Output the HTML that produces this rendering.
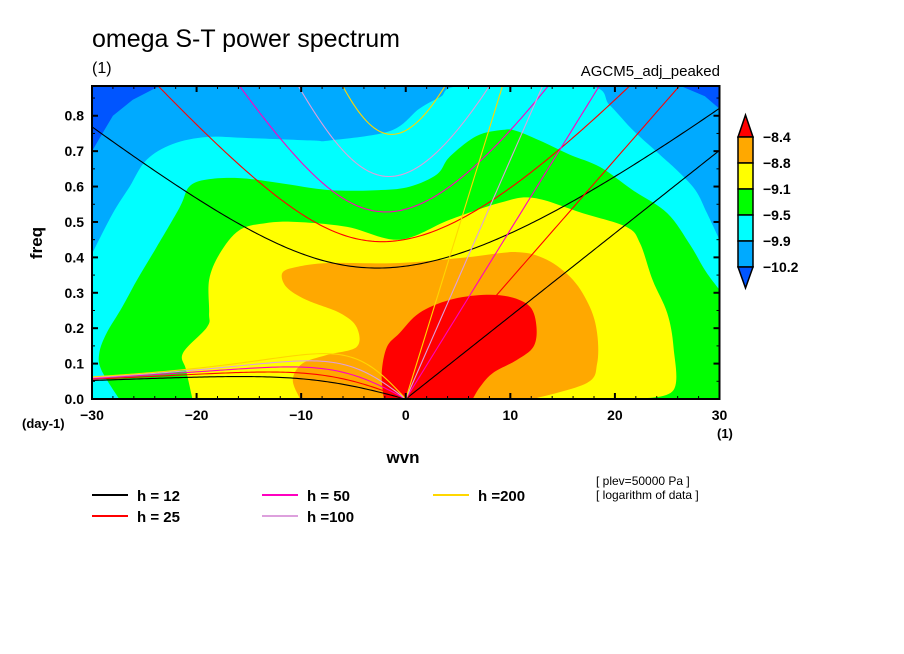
<!DOCTYPE html>
<html><head><meta charset="utf-8">
<style>
html,body{margin:0;padding:0;background:#fff;}
svg{display:block;font-family:"Liberation Sans",sans-serif;}
</style></head>
<body>
<svg id="chart" width="904" height="654" viewBox="0 0 904 654">
<defs><clipPath id="plotclip"><rect x="92" y="86" width="628" height="313"/></clipPath></defs>
<rect width="904" height="654" fill="#fff"/>
<text x="92" y="47" font-size="25">omega S-T power spectrum</text>
<text x="92" y="73" font-size="16">(1)</text>
<text x="720" y="76" font-size="15" text-anchor="end">AGCM5_adj_peaked</text>
<g id="fills" clip-path="url(#plotclip)"></g>
<g id="curves" clip-path="url(#plotclip)"></g>
<g id="axes"></g>
<g id="cbar"></g>
<text x="42" y="243" font-size="17" font-weight="bold" text-anchor="middle" transform="rotate(-90 42 243)">freq</text>
<text x="403" y="463" font-size="17" font-weight="bold" text-anchor="middle">wvn</text>
<text x="22" y="428" font-size="13" font-weight="bold">(day-1)</text>
<text x="717" y="438" font-size="13" font-weight="bold">(1)</text>
<g id="legend"></g>
<text x="596" y="485" font-size="12">[ plev=50000 Pa ]</text>
<text x="596" y="499" font-size="12">[ logarithm of data ]</text>
</svg>
<script>
// ---- data ----
const hValues = [12, 25, 50, 100, 200];
const hColors = ["#000000", "#ff0000", "#ff00c0", "#dda0dd", "#ffd700"];
const levelLabels = ["-8.4", "-8.8", "-9.1", "-9.5", "-9.9", "-10.2"];
const levelColors = ["#ff0000", "#ffa800", "#ffff00", "#00ff00", "#00ffff", "#00aaff", "#0055ff"];
const xTicks = [-30, -20, -10, 0, 10, 20, 30];
const yTicks = [0, 0.1, 0.2, 0.3, 0.4, 0.5, 0.6, 0.7, 0.8];
// contour boundaries in (wvn, freq)
const darkBlueTL = [[-30,0.885],[-20.7,0.885],[-23.8,0.88],[-26.1,0.845],[-28.0,0.80],[-30,0.70]];
const darkBlueTR = [[26.2,0.885],[30,0.885],[30,0.82],[28.6,0.855]];
const cyanEdge = [[-30,0.41],[-28.0,0.525],[-26.4,0.60],[-24.8,0.675],[-22.3,0.72],[-19.0,0.74],[-15.2,0.737],[-8.9,0.73],[-7.3,0.73],[-1.5,0.757],[1.3,0.82],[3.3,0.853],[5.5,0.885],[17.3,0.885],[19.5,0.83],[21.7,0.76],[24.3,0.69],[25.9,0.647],[27.7,0.59],[28.8,0.525],[30,0.45]];
const greenEdge = [[-27.4,0],[-29.1,0.082],[-29.3,0.13],[-28.6,0.186],[-27.1,0.26],[-25.7,0.336],[-23.8,0.43],[-21.6,0.542],[-20.7,0.60],[-19.0,0.62],[-15.9,0.624],[-12.1,0.61],[-7.3,0.59],[-2.5,0.59],[0.4,0.60],[3.0,0.635],[4.2,0.684],[6.8,0.743],[9.3,0.76],[10.6,0.757],[13.1,0.726],[15.7,0.69],[18.6,0.655],[21.7,0.59],[25.0,0.525],[27.2,0.435],[28.6,0.364],[30,0.308]];
const yellowEdge = [[-20.4,0],[-21.0,0.082],[-21.3,0.13],[-19.0,0.203],[-18.8,0.243],[-18.8,0.336],[-17.8,0.41],[-15.9,0.477],[-13.3,0.497],[-10.4,0.50],[-5.6,0.486],[-0.6,0.45],[4.2,0.506],[9.0,0.554],[12.2,0.568],[16.9,0.525],[21.1,0.486],[22.4,0.44],[23.6,0.336],[25.0,0.243],[25.6,0.147],[25.6,0.025],[22.2,0]];
const orangeEdge = [[-10.1,0],[-10.8,0.054],[-9.9,0.10],[-7.6,0.124],[-4.7,0.147],[-4.7,0.203],[-6.3,0.243],[-9.5,0.28],[-11.4,0.316],[-11.8,0.356],[-10.4,0.373],[-7.3,0.384],[-0.6,0.384],[5.8,0.40],[10.6,0.415],[13.5,0.393],[16.0,0.336],[17.6,0.26],[18.3,0.186],[18.3,0.10],[17.3,0.045],[12.2,0]];
const redEdge = [[-2.1,0],[-2.3,0.073],[-1.8,0.147],[-0.6,0.186],[1.3,0.243],[4.2,0.28],[7.4,0.294],[10.0,0.288],[11.9,0.26],[12.5,0.203],[12.2,0.147],[10.6,0.11],[8.3,0.073],[7.1,0.034],[6.4,0]];

// ---- axes ----
const X0=92, X1=719.5, Y0=399, YT=86;
const xMin=-30, xMax=30, yMin=0, yMax=0.884;
const sx = k => X0 + (k - xMin) / (xMax - xMin) * (X1 - X0);
const sy = f => Y0 - (f - yMin) / (yMax - yMin) * (Y0 - YT);
const NS="http://www.w3.org/2000/svg";
function mk(tag, attrs, parent){const e=document.createElementNS(NS,tag);for(const k in attrs)e.setAttribute(k,attrs[k]);parent.appendChild(e);return e;}

function smoothPath(pts){
  const P=pts.map(p=>[sx(p[0]),sy(p[1])]);
  let d="M"+P[0][0].toFixed(1)+","+P[0][1].toFixed(1);
  for(let i=0;i<P.length-1;i++){
    const p0=P[Math.max(i-1,0)],p1=P[i],p2=P[i+1],p3=P[Math.min(i+2,P.length-1)];
    const c1=[p1[0]+(p2[0]-p0[0])/6,p1[1]+(p2[1]-p0[1])/6];
    const c2=[p2[0]-(p3[0]-p1[0])/6,p2[1]-(p3[1]-p1[1])/6];
    d+=" C"+c1.map(v=>v.toFixed(1)).join(",")+" "+c2.map(v=>v.toFixed(1)).join(",")+" "+p2[0].toFixed(1)+","+p2[1].toFixed(1);
  }
  return d;
}
const fills=document.getElementById("fills");
const bg=mk("rect",{x:X0,y:YT,width:X1-X0+1,height:Y0-YT,fill:levelColors[5]},fills);


function region(pts, closePts, color, name){
  let d=smoothPath(pts);
  closePts.forEach(p=>{d+=" L"+sx(p[0]).toFixed(1)+","+sy(p[1]).toFixed(1);});
  d+=" Z";
  const e=mk("path",{d:d,fill:color},fills);
  
  
}
function poly(pts,color,name){
  const e=mk("polygon",{points:pts.map(p=>sx(p[0]).toFixed(1)+","+sy(p[1]).toFixed(1)).join(" "),fill:color},fills);
  
  
}
poly(darkBlueTL,levelColors[6],"fill-darkblue-topleft");
poly(darkBlueTR,levelColors[6],"fill-darkblue-topright");
region(cyanEdge,[[30,0],[-30,0]],levelColors[4],"fill-cyan");
region(greenEdge,[[30,0]],levelColors[3],"fill-green");
region(yellowEdge,[],levelColors[2],"fill-yellow");
region(orangeEdge,[],levelColors[1],"fill-orange");
region(redEdge,[],levelColors[0],"fill-red");

// ---- dispersion curves ----
const g=9.8, a=6.371e6, beta=2*7.292e-5/a, toCpd=86400/(2*Math.PI);
const curves=document.getElementById("curves");
function roots(s,c){
  const k=s/a, p=-(c*c*k*k+3*beta*c), q=-beta*k*c*c;
  const m=2*Math.sqrt(-p/3);
  let arg=(3*q/(2*p))*Math.sqrt(-3/p); arg=Math.max(-1,Math.min(1,arg));
  const th=Math.acos(arg)/3;
  return [0,1,2].map(j=>m*Math.cos(th-2*Math.PI*j/3)).sort((u,v)=>v-u);
}
function line(pts,color,name){
  const e=mk("polyline",{points:pts.map(p=>sx(p[0]).toFixed(2)+","+sy(p[1]).toFixed(2)).join(" "),fill:"none",stroke:color,"stroke-width":1.1},curves);
  
  
}
hValues.forEach((h,i)=>{
  const c=Math.sqrt(g*h);
  const kel=[],ig=[],er=[];
  for(let s=-30;s<=30.001;s+=0.25){
    const r=roots(s,c);
    ig.push([s,r[0]*toCpd]);
    if(s<=0) er.push([s,Math.max(0,r[1])*toCpd]);
    if(s>=0) kel.push([s,c*(s/a)*toCpd]);
  }
  line(ig,hColors[i],"ig-wave-h"+h);
  line(er,hColors[i],"er-wave-h"+h);
  line(kel,hColors[i],"kelvin-wave-h"+h);
});

// ---- axes frame & ticks ----
const ax=document.getElementById("axes");
const fr=mk("rect",{x:X0,y:YT,width:X1-X0,height:Y0-YT,fill:"none",stroke:"#000","stroke-width":2},ax);


for(let s=-30;s<=30;s+=2){
  const major=s%10===0, len=major?6:3, x=sx(s);
  mk("line",{x1:x,y1:Y0,x2:x,y2:Y0-len,stroke:"#000","stroke-width":major?2:1},ax);
  mk("line",{x1:x,y1:YT,x2:x,y2:YT+len,stroke:"#000","stroke-width":major?2:1},ax);
}
for(let f=0;f<=0.88;f+=0.05){
  const major=Math.round(f*100)%10===0, len=major?6:3, y=sy(f);
  mk("line",{x1:X0,y1:y,x2:X0+len,y2:y,stroke:"#000","stroke-width":major?2:1},ax);
  mk("line",{x1:X1,y1:y,x2:X1-len,y2:y,stroke:"#000","stroke-width":major?2:1},ax);
}
xTicks.forEach(t=>{
  const e=mk("text",{x:sx(t),y:Y0+21,"font-size":14,"font-weight":"bold","text-anchor":"middle"},ax);
  e.textContent=(t<0?"\u2212":"")+Math.abs(t);
  
  
});
yTicks.forEach(t=>{
  const e=mk("text",{x:X0-8,y:sy(t)+5,"font-size":14,"font-weight":"bold","text-anchor":"end"},ax);
  e.textContent=t.toFixed(1);
  
  
});

// ---- colorbar ----
const cb=document.getElementById("cbar");
const cbX0=738, cbX1=753, cbTop=115, cbBoxTop=137, cbStep=26, cbBot=288;
const tri1=mk("polygon",{points:`${(cbX0+cbX1)/2},${cbTop} ${cbX1},${cbBoxTop} ${cbX0},${cbBoxTop}`,fill:levelColors[0],stroke:"#000","stroke-width":1.5},cb);


for(let i=1;i<=5;i++){
  const r=mk("rect",{x:cbX0,y:cbBoxTop+(i-1)*cbStep,width:cbX1-cbX0,height:cbStep,fill:levelColors[i],stroke:"#000","stroke-width":1.5},cb);
  
  
}
const lastY=cbBoxTop+5*cbStep;
const tri2=mk("polygon",{points:`${cbX0},${lastY} ${cbX1},${lastY} ${(cbX0+cbX1)/2},${cbBot}`,fill:levelColors[6],stroke:"#000","stroke-width":1.5},cb);


levelLabels.forEach((l,i)=>{
  const e=mk("text",{x:763,y:cbBoxTop+i*cbStep+5,"font-size":14,"font-weight":"bold"},cb);
  e.textContent=l.replace("-","\u2212");
  
  
});

// ---- legend ----
const lg=document.getElementById("legend");
const legX=[92,262,433], legY=[495,516];
const legOrder=[0,2,4,1,3];
hValues.forEach((h,i)=>{
  const col = i===0?0:i===1?0:i===2?1:i===3?1:2;
  const row = (i===1||i===3)?1:0;
  const x=legX[col], y=legY[row];
  const ln=mk("line",{x1:x,y1:y,x2:x+36,y2:y,stroke:hColors[i],"stroke-width":2},lg);
  
  
  const t=mk("text",{x:x+45,y:y+6,"font-size":15,"font-weight":"bold"},lg);
  t.textContent = h>=100 ? "h ="+h : "h = "+h;
  
  
});
</script>
</body></html>
